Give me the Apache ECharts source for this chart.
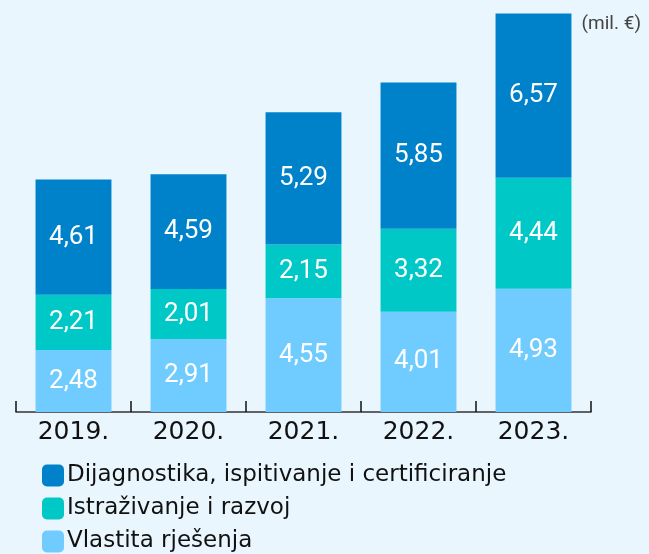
<!DOCTYPE html>
<html>
<head>
<meta charset="utf-8">
<script src="https://cdn.jsdelivr.net/npm/echarts@6/dist/echarts.min.js"></script>
<style>
  html, body { margin: 0; padding: 0; background: #eaf6fe; }
  #chart { width: 649px; height: 554px; }
</style>
</head>
<body>
<div id="chart"></div>
<script>
// Data
const years = ['2019.', '2020.', '2021.', '2022.', '2023.'];
const vlastita = [2.48, 2.91, 4.55, 4.01, 4.93];
const istrazivanje = [2.21, 2.01, 2.15, 3.32, 4.44];
const dijagnostika = [4.61, 4.59, 5.29, 5.85, 6.57];
const seriesNames = ['Dijagnostika, ispitivanje i certificiranje', 'Istraživanje i razvoj', 'Vlastita rješenja'];

const fontFamily = 'Roboto, "Noto Sans", sans-serif';
const wideFont = '"DejaVu Sans", sans-serif';
const fmt = p => p.value.toFixed(2).replace('.', ',');

function makeSeries(name, data, color) {
    return {
        name: name,
        type: 'bar',
        stack: 'total',
        data: data,
        barCategoryGap: '34%',
        itemStyle: { color: color },
        label: {
            show: true,
            position: 'inside',
            color: '#ffffff',
            fontSize: 26,
            fontFamily: fontFamily,
            formatter: fmt
        }
    };
}

const chart = echarts.init(document.getElementById('chart'));
chart.setOption({
    backgroundColor: '#eaf6fe',
    animation: false,
    grid: { left: 16, right: 58, top: 12, bottom: 142 },
    title: {
        text: '(mil. €)',
        right: 3,
        top: 10,
        textStyle: { color: '#444', fontSize: 19, fontWeight: 'normal', fontFamily: fontFamily }
    },
    legend: {
        orient: 'vertical',
        left: 42,
        top: 464,
        height: 100,
        padding: 0,
        itemWidth: 22,
        itemHeight: 22,
        itemGap: 10,
        icon: 'path://M5,0 H17 A5,5 0 0 1 22,5 V17 A5,5 0 0 1 17,22 H5 A5,5 0 0 1 0,17 V5 A5,5 0 0 1 5,0 Z',
        data: seriesNames,
        textStyle: { color: '#111', fontSize: 23, fontFamily: wideFont, padding: [0, 0, 0, -2] }
    },
    xAxis: {
        type: 'category',
        data: years,
        axisLine: { show: true, lineStyle: { color: '#333', width: 1.5 } },
        axisTick: { show: true, inside: true, length: 11, lineStyle: { color: '#111', width: 1.5 } },
        axisLabel: { color: '#111', fontSize: 25, fontFamily: wideFont, margin: 8 }
    },
    yAxis: {
        type: 'value',
        min: 0,
        max: 16,
        show: false
    },
    series: [
        makeSeries(seriesNames[2], vlastita, '#70cbff'),
        makeSeries(seriesNames[1], istrazivanje, '#00c8c6'),
        makeSeries(seriesNames[0], dijagnostika, '#0082cb')
    ]
});
</script>
</body>
</html>
